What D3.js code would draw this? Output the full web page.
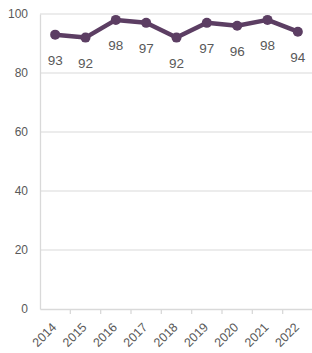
<!DOCTYPE html>
<html><head><meta charset="utf-8">
<script src="https://cdn.jsdelivr.net/npm/d3@7"></script>
<style>body{margin:0;background:#fff}svg{display:block;font-family:"Liberation Sans",Arial,sans-serif}</style>
</head><body><svg id="c" width="312" height="353"></svg>
<script>
const categories = ["2014","2015","2016","2017","2018","2019","2020","2021","2022"];
const values = [93,92,98,97,92,97,96,98,94];
const yTicks = [0,20,40,60,80,100];

const svg = d3.select("#c");
const x = d3.scaleBand().domain(categories).range([40, 313]);
const y = d3.scaleLinear().domain([0,100]).range([309, 14]);
const grid = "#d9d9d9", txt = "#595959", col = "#5c3e63";

svg.append("g").selectAll("line").data(yTicks.filter(d=>d>0)).join("line")
  .attr("x1",40).attr("x2",313).attr("y1",d=>y(d)).attr("y2",d=>y(d))
  .attr("stroke",grid).attr("stroke-width",1);

const ya = svg.append("g").attr("transform","translate(40,0)")
  .call(d3.axisLeft(y).tickValues(yTicks).tickSize(0).tickPadding(12));
ya.select(".domain").attr("stroke",grid).attr("stroke-width",1.3);
ya.selectAll("text").attr("fill",txt).attr("font-size",12);

const xa = svg.append("g").attr("transform",`translate(0,${y(0)})`)
  .call(d3.axisBottom(x).tickSize(0).tickFormat(""));
xa.select(".domain").attr("stroke",grid).attr("stroke-width",1.3);
svg.append("g").selectAll("line").data(categories.slice(1)).join("line")
  .attr("x1",d=>x(d)).attr("x2",d=>x(d)).attr("y1",y(0)).attr("y2",y(0)+5)
  .attr("stroke",grid).attr("stroke-width",1.3);
svg.append("g").selectAll("text").data(categories).join("text")
  .attr("transform",d=>`translate(${x(d)+x.bandwidth()/2+2},${y(0)+19}) rotate(-45)`)
  .attr("text-anchor","end").attr("fill",txt).attr("font-size",12.5).text(d=>d);

const cx = d=>x(d)+x.bandwidth()/2;
svg.append("path").datum(values)
  .attr("d", d3.line().x((d,i)=>cx(categories[i])).y(d=>y(d)))
  .attr("fill","none").attr("stroke",col).attr("stroke-width",4.5).attr("stroke-linejoin","round");
svg.append("g").selectAll("circle").data(values).join("circle")
  .attr("cx",(d,i)=>cx(categories[i])).attr("cy",d=>y(d)).attr("r",5).attr("fill",col);
svg.append("g").selectAll("text").data(values).join("text")
  .attr("x",(d,i)=>cx(categories[i])).attr("y",d=>y(d)+30)
  .attr("text-anchor","middle").attr("fill",txt).attr("font-size",13.5).text(d=>d);
</script></body></html>
